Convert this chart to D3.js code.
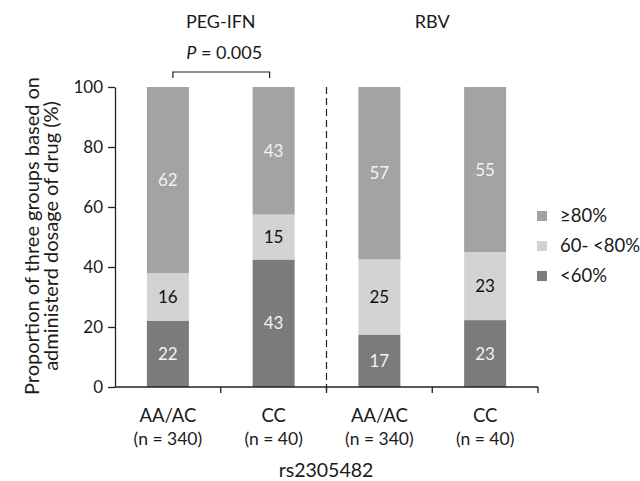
<!DOCTYPE html>
<html><head><meta charset="utf-8">
<script src="https://cdn.jsdelivr.net/npm/d3@7"></script>
<style>body{margin:0;background:#fff}svg{display:block;font-family:Lato,"Open Sans",sans-serif}</style>
</head><body><svg id="c" width="640" height="481"></svg>
<script>
const categories = ["AA/AC", "CC", "AA/AC", "CC"];
const sampleSizes = ["(n = 340)", "(n = 40)", "(n = 340)", "(n = 40)"];
const drugs = ["PEG-IFN", "RBV"];
const seriesNames = ["<60%", "60- <80%", "≥80%"];
const low = [22, 42.5, 17.5, 22.3];
const mid = [16, 15, 25, 22.7];
const high = [62, 42.5, 57.5, 55];
const lowLabels = ["22", "43", "17", "23"];
const midLabels = ["16", "15", "25", "23"];
const highLabels = ["62", "43", "57", "55"];
const yTicks = [0, 20, 40, 60, 80, 100];
const pText = "0.005";

const colors = ["#7b7b7b", "#d3d3d3", "#a3a3a3"];
const textColors = ["#f2f2f2", "#111", "#f2f2f2"];

const svg = d3.select("#c");
const x0 = 115, x1 = 538, yTop = 87, yBot = 387;
const idx = d3.range(categories.length);
const x = d3.scaleBand().domain(idx).range([x0, x1]).paddingInner(0).paddingOuter(0);
const y = d3.scaleLinear().domain([0, 100]).range([yBot, yTop]);
const barW = 42;

const rows = idx.map(i => ({i, vals: [low[i], mid[i], high[i]], labs: [lowLabels[i], midLabels[i], highLabels[i]]}));
const stack = d3.stack().keys([0,1,2]).value((d, k) => d.vals[k]);
const stacked = stack(rows);

stacked.forEach((layer, k) => {
  const g = svg.append("g");
  g.selectAll("rect").data(layer).enter().append("rect")
    .attr("x", d => x(d.data.i) + x.bandwidth()/2 - barW/2)
    .attr("width", barW)
    .attr("y", d => y(d[1]))
    .attr("height", d => y(d[0]) - y(d[1]))
    .attr("fill", colors[k]);
  g.selectAll("text").data(layer).enter().append("text")
    .attr("x", d => x(d.data.i) + x.bandwidth()/2)
    .attr("y", d => (y(d[0]) + y(d[1]))/2 + 6)
    .attr("text-anchor", "middle")
    .attr("font-size", 17)
    .attr("fill", textColors[k])
    .text(d => d.data.labs[k]);
});

// y axis
const yAxis = d3.axisLeft(y).tickValues(yTicks).tickSize(7).tickSizeOuter(0);
const ya = svg.append("g").attr("transform", `translate(${x0},0)`).call(yAxis);
ya.selectAll("text").attr("font-size", 17).attr("fill", "#1a1a1a").attr("font-family", "Lato").attr("x", -12);
ya.selectAll("line,path").attr("stroke", "#222").attr("stroke-width", 1.3);

// x axis with ticks at band boundaries
const xa = svg.append("g").attr("transform", `translate(0,${yBot})`);
xa.append("line").attr("x1", x0).attr("x2", x1).attr("stroke", "#222").attr("stroke-width", 1.3);
const bounds = idx.map(i => x(i)).concat([x1]);
xa.selectAll("line.t").data(bounds.slice(1)).enter().append("line")
  .attr("class","t").attr("x1", d => d).attr("x2", d => d).attr("y1", 0).attr("y2", 6)
  .attr("stroke", "#222").attr("stroke-width", 1.3);
xa.selectAll("text.c").data(idx).enter().append("text")
  .attr("x", i => x(i) + x.bandwidth()/2).attr("y", 35).attr("text-anchor","middle")
  .attr("font-size", 18.5).attr("fill","#1a1a1a").text(i => categories[i]);
xa.selectAll("text.n").data(idx).enter().append("text")
  .attr("x", i => x(i) + x.bandwidth()/2).attr("y", 58).attr("text-anchor","middle")
  .attr("font-size", 17.5).attr("fill","#1a1a1a").text(i => sampleSizes[i]);

// dashed divider
const mx = x(2);
svg.append("line").attr("x1", mx).attr("x2", mx).attr("y1", yTop).attr("y2", yBot + 5)
  .attr("stroke", "#222").attr("stroke-width", 1.2).attr("stroke-dasharray", "7,4");

// drug titles
drugs.forEach((d, j) => {
  svg.append("text").attr("x", x(2*j + 1)).attr("y", 28).attr("text-anchor","middle")
    .attr("font-size", 18).attr("fill","#1a1a1a").text(d);
});

// p-value bracket
const bx1 = x(0) + x.bandwidth()/2 + 5, bx2 = x(1) + x.bandwidth()/2 - 4;
svg.append("path").attr("d", `M${bx1},${78}V${72}H${bx2}V${78}`).attr("fill","none").attr("stroke","#222").attr("stroke-width",1.2);
const pt = svg.append("text").attr("x", (bx1+bx2)/2 + 3).attr("y", 59).attr("text-anchor","middle")
  .attr("font-size", 18).attr("fill","#1a1a1a");
pt.append("tspan").attr("font-style","italic").text("P");
pt.append("tspan").text(" = " + pText);

// x title
svg.append("text").attr("x", 326).attr("y", 477).attr("text-anchor","middle")
  .attr("font-size", 19.5).attr("fill","#1a1a1a").text("rs2305482");

// y title
const yt = svg.append("text").attr("transform", "translate(0,236) rotate(-90)")
  .attr("text-anchor","middle").attr("font-size", 20).attr("fill","#1a1a1a");
yt.append("tspan").attr("x",0).attr("y",39).text("Proportion of three groups based on");
yt.append("tspan").attr("x",0).attr("y",58).text("administerd dosage of drug (%)");

// legend
const legOrder = [2, 1, 0];
const lg = svg.append("g");
legOrder.forEach((k, j) => {
  const ly = 216 + j * 30;
  lg.append("rect").attr("x", 537).attr("y", ly - 5).attr("width", 10).attr("height", 10).attr("fill", colors[k]);
  lg.append("text").attr("x", 560).attr("y", ly + 6).attr("font-size", 18.5).attr("fill","#1a1a1a").text(seriesNames[k]);
});
</script></body></html>
